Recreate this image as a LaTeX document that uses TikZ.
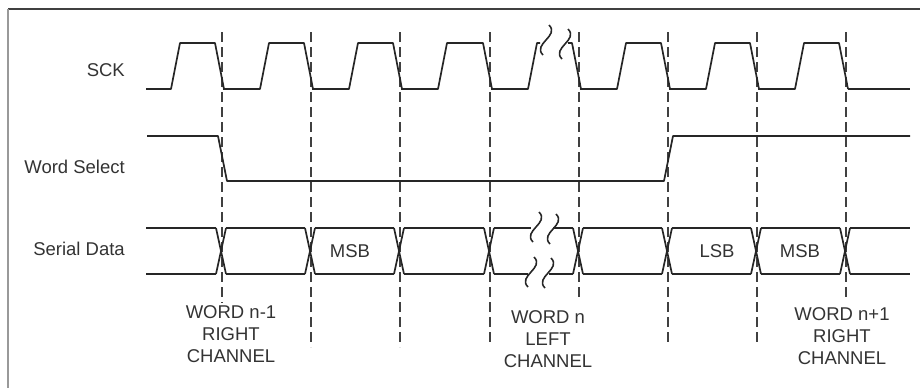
\documentclass[tikz,border=0pt]{standalone}
\usepackage{fontspec}
\setmainfont{Liberation Sans}
\begin{document}
\begin{tikzpicture}[x=1pt, y=-1pt,
    wave/.style={line width=1.7pt, black!85, line join=round},
    grid/.style={line width=2pt, black!75, dash pattern=on 10pt off 5pt},
    lbl/.style={font=\fontsize{18.5}{22}\selectfont, text=black!80, inner sep=0pt},
    squig/.pic={\draw[wave, line width=1.6pt] (-3,15) .. controls (-14,4) and (14,-4) .. (3,-15);}]
    \useasboundingbox (0,0) rectangle (920,388);
    % frame
    \draw[black!75, line width=1.2pt] (8,9) -- (920,9);
    \draw[black!40, line width=1.2pt] (8,9) -- (8,388);

    % signal names
    \node[lbl, anchor=east] (sck) at (125,70) {SCK};
    \node[lbl, anchor=east] (ws) at (125,167) {Word Select};
    \node[lbl, anchor=east] (sd) at (125,249) {Serial Data};

    % dashed clock edges
    \foreach \xd/\yend in {222/303, 311/347, 400/347, 490/345, 579/300, 668/345, 757/345, 846/300}
        \draw[grid] (\xd, 32) -- (\xd, \yend);

    % SCK
    \foreach \xa/\xb in {133/222, 222/311, 311/400, 400/490, 579/668, 668/757, 757/846} {
        \pgfmathsetmacro{\xs}{max(146,\xa+1)}
        \draw[wave] (\xs,89) -- (\xa+38,89) -- (\xa+47,43) -- (\xb-7,43) -- (\xb+2,89);
    }
    \draw[wave] (848,89) -- (910,89);
    % SCK, broken pulse
    \draw[wave] (491,89) -- (528,89) -- (537,43) -- (540,43);
    \pic at (546,40) {squig};
    \pic at (565,44) {squig};
    \draw[wave] (568,43) -- (572,43) -- (581,89);

    % Word Select
    \draw[wave] (147,136) -- (218,136) -- (227,181) -- (664,181) -- (673,136) -- (910,136);

    % Serial Data
    \foreach \xd in {222,311,400,490,579,668,757,846}
        \draw[wave] (\xd-6,228) -- (\xd+4,274) (\xd-6,274) -- (\xd+4,228);
    \foreach \xa/\xb in {222/311, 311/400, 400/490, 579/668, 668/757, 757/846}
        \draw[wave] (\xa+4,228) -- (\xb-6,228) (\xa+4,274) -- (\xb-6,274);
    \draw[wave] (146,228) -- (216,228) (146,274) -- (216,274);
    \draw[wave] (850,228) -- (910,228) (850,274) -- (910,274);
    % Serial Data, broken word
    \draw[wave] (494,228) -- (531,228) (553,228) -- (573,228);
    \draw[wave] (494,274) -- (528,274) (549,274) -- (573,274);
    \pic at (536,227) {squig};
    \pic at (553,229) {squig};
    \pic at (531,272) {squig};
    \pic at (548,273) {squig};

    % bits
    \node[lbl] (msba) at (350,251) {MSB};
    \node[lbl] (lsb) at (717,251) {LSB};
    \node[lbl] (msbb) at (800,251) {MSB};

    % words
    \node[lbl, align=center, anchor=north] (wprev) at (231,305) {WORD n-1\\RIGHT\\CHANNEL};
    \node[lbl, align=center, anchor=north] (wcur) at (548,310) {WORD n\\LEFT\\CHANNEL};
    \node[lbl, align=center, anchor=north] (wnext) at (842,307) {WORD n+1\\RIGHT\\CHANNEL};
\end{tikzpicture}
\end{document}
